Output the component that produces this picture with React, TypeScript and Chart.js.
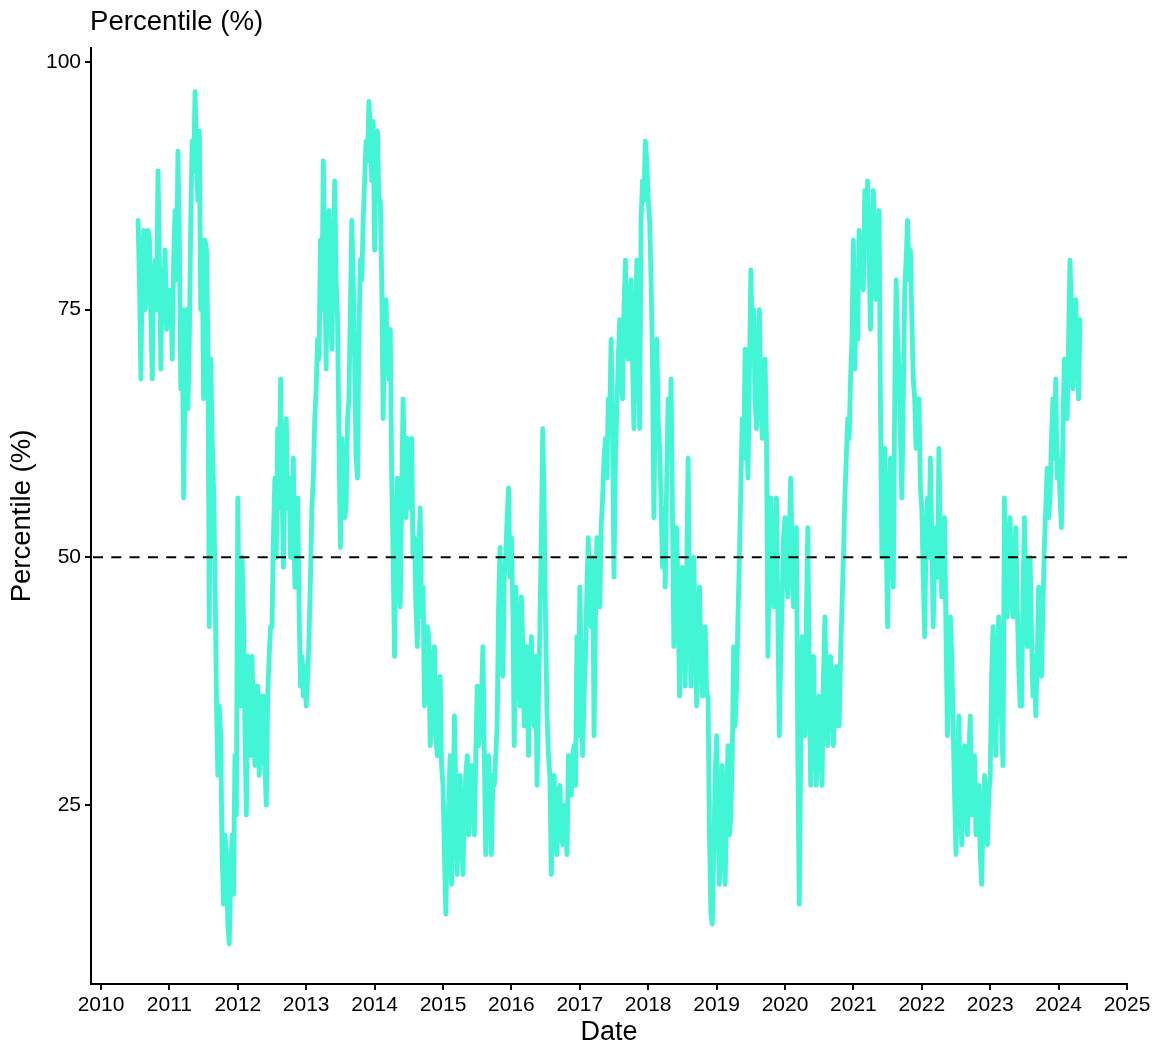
import React, { useEffect, useRef } from "react";
import { Chart, registerables } from "chart.js";

Chart.register(...registerables);

// ---- data: weekly-ish readings (48 per year), percentile in % ----
const SLOTS_PER_YEAR = 48;
const FIRST_SLOT_2010 = 26; // series starts mid-July 2010

const p2010 = [84, 78, 68, 80, 83, 75, 77, 83, 82, 74, 68, 78, 80, 75, 89, 80, 69, 79, 76, 81, 73, 77];
const p2011 = [74, 77, 70, 80, 85, 78, 91, 82, 67, 75, 56, 68, 75, 65, 72, 84, 92, 89, 97, 90, 86, 93, 75, 82, 66, 82, 81, 72, 43, 70, 62, 57, 48, 36, 28, 35, 32, 20, 15, 22, 20, 13, 11, 18, 22, 16, 30, 24];
const p2012 = [56, 42, 35, 50, 44, 33, 24, 40, 38, 30, 40, 33, 29, 37, 37, 28, 30, 36, 36, 29, 25, 36, 40, 43, 43, 52, 58, 50, 63, 55, 68, 58, 49, 60, 64, 55, 58, 50, 52, 60, 47, 55, 56, 45, 37, 40, 36, 39];
const p2013 = [35, 38, 42, 48, 55, 58, 64, 67, 72, 70, 82, 75, 90, 80, 69, 83, 85, 75, 71, 80, 88, 78, 74, 62, 51, 62, 60, 54, 55, 64, 66, 75, 84, 78, 70, 60, 58, 72, 80, 78, 84, 88, 92, 90, 96, 93, 88, 94];
const p2014 = [81, 90, 93, 86, 86, 78, 64, 75, 76, 70, 68, 73, 58, 50, 40, 52, 58, 48, 45, 56, 66, 58, 54, 62, 60, 55, 62, 50, 52, 45, 41, 50, 55, 44, 47, 35, 37, 43, 42, 31, 33, 40, 41, 32, 30, 36, 38, 29];
const p2015 = [27, 20, 14, 22, 25, 30, 17, 24, 34, 26, 18, 25, 28, 22, 18, 24, 28, 30, 22, 26, 29, 25, 22, 30, 37, 31, 33, 36, 41, 30, 20, 26, 30, 24, 20, 28, 27, 30, 33, 45, 51, 44, 38, 48, 50, 54, 57, 48];
const p2016 = [52, 45, 31, 47, 44, 37, 35, 46, 41, 33, 37, 41, 30, 38, 42, 36, 33, 40, 27, 36, 43, 52, 63, 55, 43, 34, 30, 28, 18, 24, 28, 22, 20, 26, 27, 22, 21, 25, 23, 20, 30, 27, 26, 30, 31, 27, 42, 32];
const p2017 = [47, 40, 30, 36, 40, 47, 52, 44, 43, 50, 32, 44, 52, 48, 45, 53, 56, 60, 62, 58, 66, 64, 72, 62, 48, 60, 65, 70, 74, 68, 66, 75, 80, 72, 70, 76, 78, 70, 63, 72, 80, 74, 63, 84, 88, 86, 92, 90];
const p2018 = [86, 84, 78, 70, 54, 66, 72, 64, 61, 56, 49, 55, 47, 58, 66, 60, 68, 55, 41, 50, 53, 46, 36, 45, 49, 42, 37, 48, 60, 45, 37, 44, 50, 42, 35, 44, 47, 40, 36, 40, 43, 36, 36, 22, 14, 13, 20, 28];
const p2019 = [32, 24, 17, 26, 29, 20, 17, 25, 31, 22, 24, 30, 41, 33, 37, 44, 50, 57, 64, 60, 71, 64, 58, 68, 79, 72, 75, 66, 63, 70, 75, 66, 62, 66, 70, 62, 40, 50, 56, 48, 45, 52, 56, 44, 32, 40, 46, 52];
const p2020 = [54, 48, 46, 52, 58, 50, 45, 52, 53, 30, 15, 30, 42, 36, 32, 44, 53, 38, 27, 34, 40, 31, 27, 35, 36, 30, 27, 38, 44, 36, 31, 38, 40, 35, 31, 38, 39, 33, 33, 40, 45, 50, 56, 60, 64, 62, 68, 72];
const p2021 = [82, 69, 77, 72, 83, 80, 81, 77, 87, 84, 88, 80, 73, 80, 87, 80, 76, 82, 85, 65, 50, 60, 61, 52, 43, 55, 60, 52, 47, 66, 78, 72, 69, 62, 56, 66, 77, 80, 84, 78, 81, 74, 68, 66, 61, 66, 66, 57];
const p2022 = [55, 48, 42, 52, 56, 50, 60, 52, 43, 50, 53, 48, 61, 52, 46, 50, 54, 42, 32, 38, 44, 40, 33, 26, 20, 28, 34, 26, 21, 28, 31, 25, 22, 30, 34, 24, 28, 30, 22, 25, 27, 20, 17, 24, 28, 22, 21, 26];
const p2023 = [28, 38, 43, 34, 30, 40, 44, 38, 33, 29, 56, 48, 44, 52, 54, 46, 44, 50, 53, 45, 39, 35, 35, 46, 54, 47, 41, 45, 50, 42, 36, 40, 34, 40, 47, 42, 38, 45, 51, 55, 59, 54, 56, 62, 66, 60, 68, 58];
const p2024 = [60, 56, 53, 62, 70, 65, 64, 72, 80, 75, 67, 72, 76, 70, 66, 74];

const seriesYears = [2010, 2011, 2012, 2013, 2014, 2015, 2016, 2017, 2018, 2019, 2020, 2021, 2022, 2023, 2024];
const seriesValues = [p2010, p2011, p2012, p2013, p2014, p2015, p2016, p2017, p2018, p2019, p2020, p2021, p2022, p2023, p2024];

const xTickYears = [2010, 2011, 2012, 2013, 2014, 2015, 2016, 2017, 2018, 2019, 2020, 2021, 2022, 2023, 2024, 2025];
const yTickValues = [25, 50, 75, 100];
const referenceLevel = 50;

const chartTitle = "Percentile (%)";
const xAxisTitle = "Date";
const yAxisTitle = "Percentile (%)";

const FONT = "'Liberation Sans', Arial, Helvetica, sans-serif";
const LINE_COLOR = "#42F5D4";

function buildPoints() {
  const pts: { x: number; y: number }[] = [];
  seriesYears.forEach((year, k) => {
    const offset = year === 2010 ? FIRST_SLOT_2010 : 0;
    seriesValues[k].forEach((v, i) => {
      pts.push({ x: year + (offset + i) / SLOTS_PER_YEAR, y: v });
    });
  });
  return pts;
}

const refLinePlugin = {
  id: "refLine",
  afterDatasetsDraw(chart: any) {
    const { ctx, chartArea, scales } = chart;
    const y = scales.y.getPixelForValue(referenceLevel);
    ctx.save();
    ctx.beginPath();
    ctx.setLineDash([10, 8.3]);
    ctx.lineWidth = 2;
    ctx.strokeStyle = "#000";
    ctx.moveTo(chartArea.left + 2, y);
    ctx.lineTo(chartArea.right, y);
    ctx.stroke();
    ctx.restore();
  },
};

const topTitlePlugin = {
  id: "topTitle",
  afterDraw(chart: any) {
    const { ctx } = chart;
    ctx.save();
    ctx.font = `27.6px ${FONT}`;
    ctx.fillStyle = "#000";
    ctx.textAlign = "left";
    ctx.textBaseline = "alphabetic";
    ctx.fillText(chartTitle, 90, 29.5);
    ctx.restore();
  },
};

export default function App() {
  const canvasRef = useRef<HTMLCanvasElement | null>(null);

  useEffect(() => {
    if (!canvasRef.current) return;
    const points = buildPoints();
    const chart = new Chart(canvasRef.current, {
      type: "line",
      data: {
        datasets: [
          {
            data: points,
            borderColor: LINE_COLOR,
            borderWidth: 4.8,
            pointRadius: 0,
            tension: 0,
            fill: false,
            borderJoinStyle: "round",
            borderCapStyle: "round",
          },
        ],
      },
      options: {
        animation: false,
        responsive: true,
        maintainAspectRatio: false,
        layout: { padding: { top: 48, right: 28, left: 0, bottom: 0 } },
        plugins: {
          legend: { display: false },
          tooltip: { enabled: false },
          title: { display: false },
        },
        scales: {
          x: {
            type: "linear",
            min: 2009.854,
            max: 2025,
            afterBuildTicks: (s: any) => {
              s.ticks = xTickYears.map((v) => ({ value: v }));
            },
            afterFit: (s: any) => {
              s.height = 66;
            },
            ticks: {
              autoSkip: false,
              maxRotation: 0,
              minRotation: 0,
              color: "#000",
              padding: 3,
              font: { family: FONT, size: 21 },
              callback: (v: any) => String(v),
            },
            grid: {
              display: true,
              drawOnChartArea: false,
              drawTicks: true,
              tickLength: 6,
              color: "#000",
              lineWidth: 2,
            },
            border: { display: true, color: "#000", width: 2 },
            title: {
              display: true,
              text: xAxisTitle,
              color: "#000",
              font: { family: FONT, size: 27 },
              padding: { top: 0, bottom: 1 },
            },
          },
          y: {
            type: "linear",
            min: 6.95,
            max: 101.4,
            afterBuildTicks: (s: any) => {
              s.ticks = yTickValues.map((v) => ({ value: v }));
            },
            afterFit: (s: any) => {
              s.width = 91;
            },
            ticks: {
              color: "#000",
              padding: 4,
              font: { family: FONT, size: 21 },
              callback: (v: any) => String(v),
            },
            grid: {
              display: true,
              drawOnChartArea: false,
              drawTicks: true,
              tickLength: 6,
              color: "#000",
              lineWidth: 2,
            },
            border: { display: true, color: "#000", width: 2 },
            title: {
              display: true,
              text: yAxisTitle,
              color: "#000",
              font: { family: FONT, size: 27.5 },
              padding: { top: 6, bottom: 0 },
            },
          },
        },
      },
      plugins: [refLinePlugin, topTitlePlugin],
    });
    return () => chart.destroy();
  }, []);

  return (
    <div
      style={{
        position: "fixed",
        left: 0,
        top: 0,
        width: 1155,
        height: 1050,
        background: "#fff",
      }}
    >
      <canvas ref={canvasRef} />
    </div>
  );
}
